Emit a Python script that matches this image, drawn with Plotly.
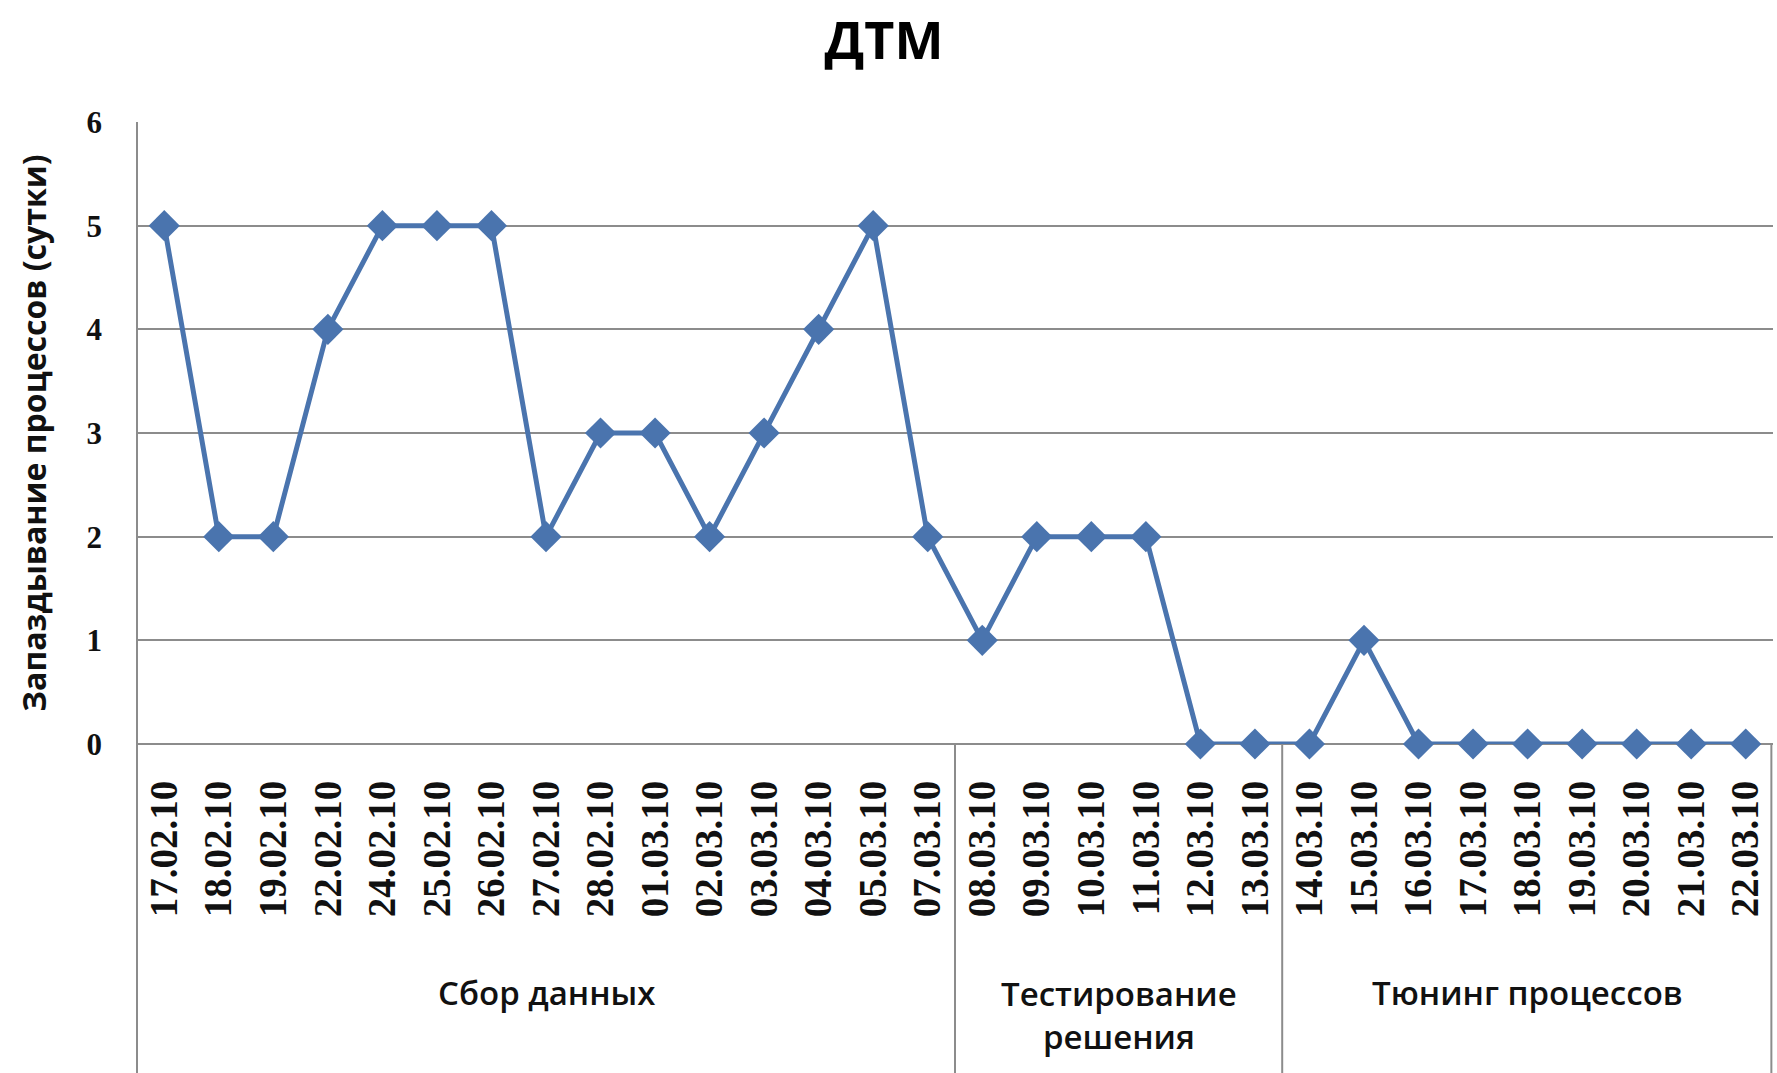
import plotly.graph_objects as go

dates = ["17.02.10", "18.02.10", "19.02.10", "22.02.10", "24.02.10", "25.02.10",
         "26.02.10", "27.02.10", "28.02.10", "01.03.10", "02.03.10", "03.03.10",
         "04.03.10", "05.03.10", "07.03.10",
         "08.03.10", "09.03.10", "10.03.10", "11.03.10", "12.03.10", "13.03.10",
         "14.03.10", "15.03.10", "16.03.10", "17.03.10", "18.03.10", "19.03.10",
         "20.03.10", "21.03.10", "22.03.10"]
delays = [5, 2, 2, 4, 5, 5, 5, 2, 3, 3, 2, 3, 4, 5, 2,
          1, 2, 2, 2, 0, 0,
          0, 1, 0, 0, 0, 0, 0, 0, 0]
group_names = ["Сбор данных", "Тестирование<br>решения", "Тюнинг процессов"]
group_sizes = [15, 6, 9]
y_ticks = [0, 1, 2, 3, 4, 5, 6]

x_idx = list(range(len(dates)))

fig = go.Figure()
fig.add_trace(go.Scatter(
    x=x_idx, y=delays, mode="lines+markers",
    line=dict(color="#4A74AE", width=5),
    marker=dict(symbol="diamond", size=24, color="#4A74AE"),
    cliponaxis=False, showlegend=False,
))

shapes = []
annotations = []
start = 0
bounds = [-0.5]
for name, size in zip(group_names, group_sizes):
    end = start + size
    bounds.append(end - 0.5)
    center = (start + end - 1) / 2
    two_line = "<br>" in name
    annotations.append(dict(
        x=center, xref="x", y=-0.436 if two_line else -0.40, yref="paper",
        text=name, showarrow=False, xanchor="center", yanchor="middle",
        font=dict(family="Open Sans", size=33, color="#111111", weight=600),
    ))
    start = end

for i, b in enumerate(bounds):
    if i == 0:
        continue
    xr, xv = ("x", b)
    if i == len(bounds) - 1:
        xr, xv = ("paper", 0.999)
    shapes.append(dict(type="line", xref=xr, x0=xv, x1=xv, yref="paper",
                       y0=0, y1=-0.53, line=dict(color="#8C8C8C", width=2)))
shapes.append(dict(type="line", xref="paper", x0=0, x1=0, yref="paper",
                   y0=1, y1=-0.53, line=dict(color="#8C8C8C", width=2)))

fig.update_layout(
    width=1777, height=1073,
    margin=dict(l=137, r=4, t=122, b=329),
    paper_bgcolor="white", plot_bgcolor="white",
    title=dict(text="<b>ДТМ</b>", x=0.4975, xanchor="center", y=0.962, yanchor="middle",
               font=dict(family="Open Sans", size=52, color="black")),
    xaxis=dict(
        tickmode="array", tickvals=x_idx, ticktext=dates, tickangle=-90,
        range=[-0.5, len(dates) - 0.5],
        showgrid=False, zeroline=False, showline=False, ticks="",
        ticklabelstandoff=28,
        tickfont=dict(family="Liberation Serif", size=39, color="#111111", weight="bold"),
    ),
    yaxis=dict(
        range=[0, 6], tickvals=y_ticks, showgrid=True, gridcolor="#8C8C8C", gridwidth=2,
        zeroline=True, zerolinecolor="#8C8C8C", zerolinewidth=2,
        showline=False, ticks="", ticklabelstandoff=34,
        tickfont=dict(family="Liberation Serif", size=31, color="#111111", weight="bold"),
        title=dict(text="<b>Запаздывание процессов (сутки)</b>", standoff=30,
                   font=dict(family="Open Sans", size=32, color="#111111")),
    ),
    shapes=shapes,
    annotations=annotations,
)

fig.write_html("out.html")
